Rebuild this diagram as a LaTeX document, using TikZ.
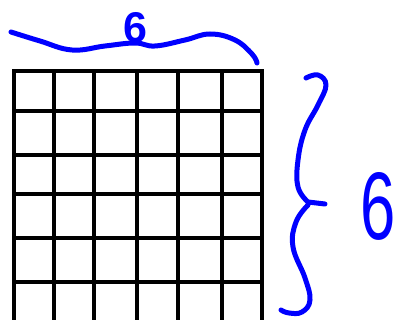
\documentclass[tikz,border=0pt]{standalone}
\usepackage{fontspec}
\setmainfont{Liberation Sans}
\usepackage{graphicx}
\definecolor{handblue}{RGB}{0,0,255}
\begin{document}
\begin{tikzpicture}[x=1pt,y=-1pt,line join=round,line cap=round,
  gridline/.style={line width=4pt,line cap=rect},
  brace/.style={draw=handblue,line width=5pt},
  hand/.style={text=handblue,inner sep=0pt}]
\useasboundingbox (0,0) rectangle (396,320);
\clip (0,0) rectangle (396,320);
% grid, runs off the bottom edge
\foreach \x in {14,53.5,94,137,178,222,262}
  \draw[gridline] (\x,71) -- (\x,330);
\foreach \y in {71,111,155,194,238,282,322}
  \draw[gridline] (14,\y) -- (262,\y);
% labels
\node[hand,font=\fontsize{43}{43}\selectfont\bfseries] (topsix) at (135,28) {6};
\node[hand,font=\fontsize{96}{96}\selectfont] (rightsix) at (378,206) {\scalebox{0.66}[1]{6}};
% top brace
\draw[brace] plot[smooth,tension=0.7] coordinates {(11,32) (40,41) (72,50) (105,46) (135,43) (155,46) (185,40) (210,34) (235,40) (252,54) (257,63)};
% right brace
\path (325,204) coordinate (tip);
\draw[brace] plot[smooth,tension=0.7] coordinates {(306,78) (318,75) (326,85) (318,105) (305,130) (298,160) (298,187) (308,202)} -- (tip);
\draw[brace] plot[smooth,tension=0.7] coordinates {(308,205) (296,222) (293,247) (305,278) (310,300) (302,312) (289,313) (281,310)};
\end{tikzpicture}
\end{document}
